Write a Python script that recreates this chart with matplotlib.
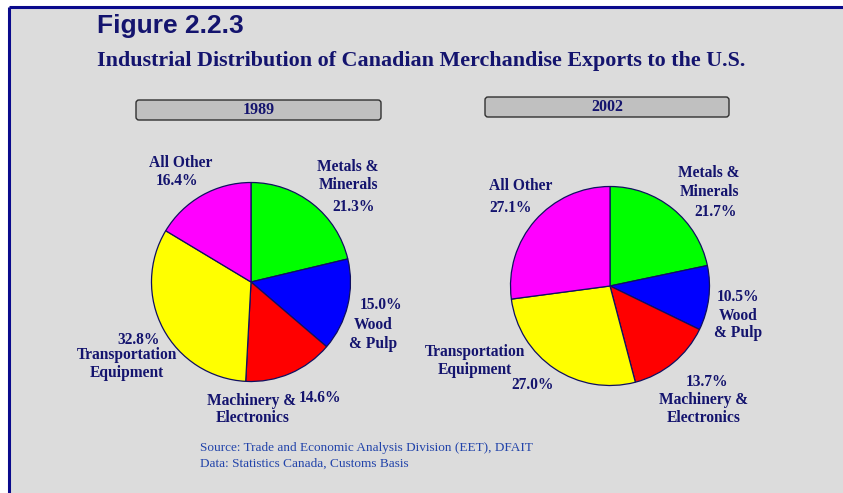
import matplotlib
matplotlib.use("Agg")
import matplotlib.pyplot as plt
from matplotlib.patches import Rectangle, FancyBboxPatch

# data
sectors = ["Metals & Minerals", "Wood & Pulp", "Machinery & Electronics",
           "Transportation Equipment", "All Other"]
share_1989 = [21.3, 15.0, 14.6, 32.8, 16.4]
share_2002 = [21.7, 10.5, 13.7, 27.0, 27.1]
years = ["1989", "2002"]
colors = ["#00ff00", "#0000ff", "#ff0000", "#ffff00", "#ff00ff"]

navy = "#14146e"
W, H = 843, 493

fig = plt.figure(figsize=(W / 100, H / 100), dpi=100)
fig.patch.set_facecolor("white")
# whole-figure axes working in pixel units (y measured from top)
ax = fig.add_axes([0, 0, 1, 1])


def py(y):
    return H - y


# grey panel with navy top/left rule
ax.add_patch(Rectangle((9, 0), W - 9, py(7), facecolor="#dcdcdc", edgecolor="none", zorder=0))
ax.plot([8.5, W], [py(7), py(7)], color="#0a0a8c", lw=2.2, zorder=1, solid_capstyle="butt")
ax.plot([9, 9], [0, py(7)], color="#0a0a8c", lw=2.2, zorder=1, solid_capstyle="butt")

ax.text(97, py(26), "Figure 2.2.3", fontsize=19, fontweight="bold", family="Liberation Sans",
        color=navy, va="center", ha="left")
ax.text(97, py(61), "Industrial Distribution of Canadian Merchandise Exports to the U.S.",
        fontsize=15.8, fontweight="bold", family="Liberation Serif", color=navy, va="center", ha="left")

# year boxes
boxes = [(136, 100, 245, 20), (485, 97, 244, 20)]
for (x, y, w, h), yr in zip(boxes, years):
    ax.add_patch(FancyBboxPatch((x + 2, py(y + h) + 2), w - 4, h - 4,
                                boxstyle="round,pad=2,rounding_size=3",
                                facecolor="#c0c0c0", edgecolor="#303030", lw=1.0, zorder=2))
    ax.text(x + w / 2, py(y + h / 2), yr, fontsize=11.5, fontweight="bold", family="Liberation Serif",
            color=navy, ha="center", va="center", zorder=3)

# pies
centers = [(251, 282), (610, 286)]
for vals, (cx, cy) in zip([share_1989, share_2002], centers):
    ax.pie(vals, colors=colors, startangle=90, counterclock=False,
           center=(cx, py(cy)), radius=99.5,
           wedgeprops=dict(edgecolor="#101060", linewidth=0.9))

# label layout (pixel positions, text centres)
def fmt(v):
    return "%.1f%%" % v

lab = dict(fontsize=11.2, fontweight="bold", family="Liberation Serif", color=navy,
           ha="center", va="center", zorder=4)

left = [
    ("All Other", 181, 163), (fmt(share_1989[4]), 177, 181),
    ("Metals &", 348, 167), ("Minerals", 348, 185), (fmt(share_1989[0]), 354, 207),
    (fmt(share_1989[1]), 381, 305), ("Wood", 373, 325), ("& Pulp", 373, 344),
    (fmt(share_1989[3]), 139, 340), ("Transportation", 127, 355), ("Equipment", 127, 373),
    ("Machinery &", 252, 401), (fmt(share_1989[2]), 320, 398), ("Electronics", 253, 418),
]
right = [
    ("All Other", 521, 186), (fmt(share_2002[4]), 511, 208),
    ("Metals &", 709, 173), ("Minerals", 709, 192), (fmt(share_2002[0]), 716, 212),
    (fmt(share_2002[1]), 738, 297), ("Wood", 738, 316), ("& Pulp", 738, 333),
    ("Transportation", 475, 352), ("Equipment", 475, 370), (fmt(share_2002[3]), 533, 385),
    (fmt(share_2002[2]), 707, 382), ("Machinery &", 704, 400), ("Electronics", 704, 418),
]
for s, x, y in left + right:
    ax.text(x, py(y), s, **lab)

ax.text(200, py(448), "Source: Trade and Economic Analysis Division (EET), DFAIT",
        fontsize=9.5, family="Liberation Serif", color="#2244aa", ha="left", va="center")
ax.text(200, py(464), "Data: Statistics Canada, Customs Basis",
        fontsize=9.5, family="Liberation Serif", color="#2244aa", ha="left", va="center")

ax.set_xlim(0, W)
ax.set_ylim(0, H)
ax.set_aspect("auto")
ax.axis("off")

fig.savefig("out.png", dpi=100, facecolor=fig.get_facecolor())
